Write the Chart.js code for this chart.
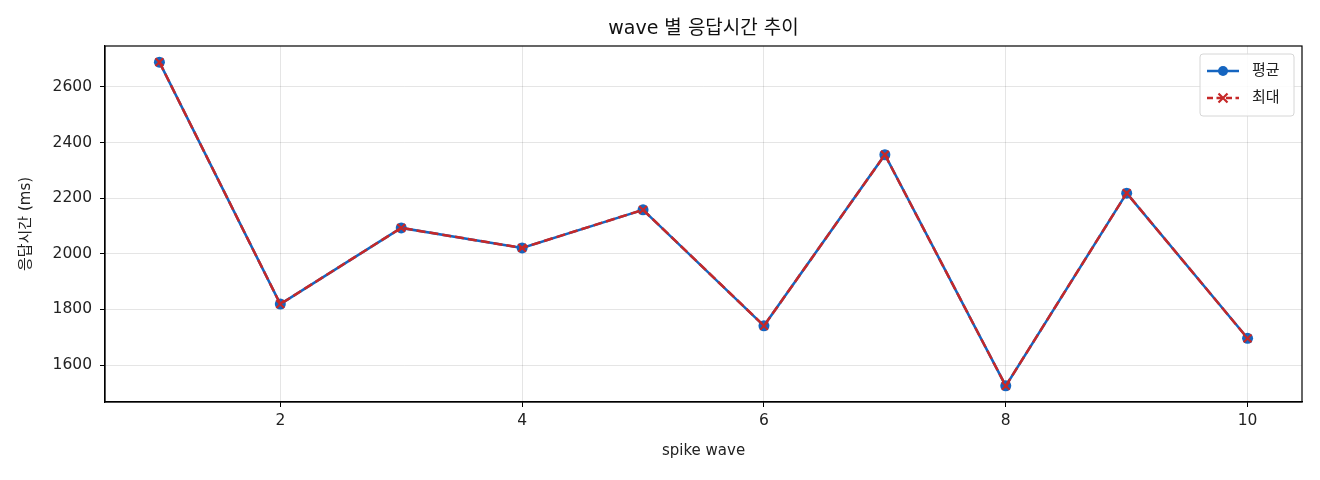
<!DOCTYPE html>
<html>
<head>
<meta charset="utf-8">
<script src="https://cdn.jsdelivr.net/npm/chart.js@4"></script>
<style>
  body { margin: 0; background: #fff; }
  #wrap { width: 1320px; height: 480px; }
</style>
</head>
<body>
<div id="wrap"><canvas id="myChart"></canvas></div>
<script>
// 데이터
var waves = [1, 2, 3, 4, 5, 6, 7, 8, 9, 10]
var avgMs = [2689, 1819, 2093, 2021, 2158, 1741, 2356, 1525, 2218, 1696]
var maxMs = [2689, 1819, 2093, 2021, 2158, 1741, 2356, 1525, 2218, 1696]
var xTicks = [2, 4, 6, 8, 10]
var yTicks = [1600, 1800, 2000, 2200, 2400, 2600]

var FONT = '"DejaVu Sans", "Noto Sans CJK KR", sans-serif'
var BLUE = '#1565c0'
var RED = '#c62828'

// 범례용 아이콘 (선 + 마커)
function legendIcon(color, dashed, marker) {
    var c = document.createElement('canvas')
    c.width = 34; c.height = 14
    var g = c.getContext('2d')
    g.strokeStyle = color
    g.lineWidth = 2.5
    if (dashed) g.setLineDash([6, 3.5])
    g.beginPath(); g.moveTo(1, 7); g.lineTo(33, 7); g.stroke()
    g.setLineDash([])
    if (marker === 'circle') {
        g.fillStyle = color
        g.beginPath(); g.arc(17, 7, 5, 0, Math.PI * 2); g.fill()
    } else {
        g.lineWidth = 2.2
        g.beginPath()
        g.moveTo(12.5, 2.5); g.lineTo(21.5, 11.5)
        g.moveTo(21.5, 2.5); g.lineTo(12.5, 11.5)
        g.stroke()
    }
    return c
}

// 축 테두리 + 범례 박스
var frame = {
    id: 'frame',
    afterDraw(chart) {
        var a = chart.chartArea, ctx = chart.ctx
        ctx.save()
        ctx.strokeStyle = '#000'
        ctx.lineWidth = 1.2
        ctx.strokeRect(a.left, a.top, a.right - a.left, a.bottom - a.top)

        var items = chart.data.datasets
        var bw = 94, bh = 62
        var bx = a.right - bw - 8, by = a.top + 8
        ctx.fillStyle = 'rgba(255,255,255,0.85)'
        ctx.strokeStyle = '#d6d6d6'
        ctx.lineWidth = 1
        ctx.beginPath()
        ctx.roundRect(bx, by, bw, bh, 3)
        ctx.fill(); ctx.stroke()
        ctx.font = '15px ' + FONT
        ctx.textBaseline = 'middle'
        ctx.fillStyle = '#222'
        items.forEach((ds, i) => {
            var y = by + 17 + i * 27
            ctx.drawImage(ds._icon, bx + 6, y - 7)
            ctx.fillText(ds.label, bx + 52, y)
        })
        ctx.restore()
    }
}

var ctx = document.getElementById('myChart').getContext('2d');
var myChart = new Chart(ctx, {
    type: 'line',
    data: {
        datasets: [{
            label: '평균',
            data: waves.map((w, i) => ({x: w, y: avgMs[i]})),
            borderColor: BLUE,
            backgroundColor: BLUE,
            borderWidth: 2.5,
            pointStyle: 'circle',
            pointRadius: 5.5,
            pointBorderWidth: 0,
            order: 2,
            _icon: legendIcon(BLUE, false, 'circle')
        }, {
            label: '최대',
            data: waves.map((w, i) => ({x: w, y: maxMs[i]})),
            borderColor: RED,
            backgroundColor: RED,
            borderWidth: 2.5,
            borderDash: [9, 4],
            pointStyle: 'crossRot',
            pointRadius: 5.5,
            pointBorderWidth: 2.2,
            order: 1,
            _icon: legendIcon(RED, true, 'x')
        }]
    },
    options: {
        responsive: true,
        maintainAspectRatio: false,
        animation: false,
        layout: { padding: { left: 0, right: 18, top: 0, bottom: 0 } },
        plugins: {
            legend: { display: false },
            tooltip: { enabled: false },
            title: {
                display: true,
                text: 'wave 별 응답시간 추이',
                color: '#111',
                fullSize: false,
                font: { family: FONT, size: 19, weight: 'normal' },
                padding: { top: 17.6, bottom: 5.6 }
            }
        },
        scales: {
            x: {
                type: 'linear',
                min: 0.55,
                max: 10.45,
                afterBuildTicks: (axis) => { axis.ticks = xTicks.map(v => ({value: v})) },
                afterFit: (axis) => { axis.height = 78 },
                grid: { color: 'rgba(0,0,0,0.1)', tickColor: '#000', tickLength: 5, drawOnChartArea: true },
                border: { color: '#000', width: 1.2 },
                ticks: {
                    color: '#222', font: { family: FONT, size: 15.5 }, padding: 5, maxRotation: 0,
                    callback: (v) => String(v)
                },
                title: {
                    display: true, text: 'spike wave', color: '#222',
                    font: { family: FONT, size: 15 }, padding: { top: 20, bottom: 20 }
                }
            },
            y: {
                type: 'linear',
                min: 1467,
                max: 2747,
                afterBuildTicks: (axis) => { axis.ticks = yTicks.map(v => ({value: v})) },
                afterFit: (axis) => { axis.width = 105 },
                grid: { color: 'rgba(0,0,0,0.1)', tickColor: '#000', tickLength: 5 },
                border: { color: '#000', width: 1.2 },
                ticks: {
                    color: '#222', font: { family: FONT, size: 15.5 }, padding: 8,
                    callback: (v) => String(v)
                },
                title: {
                    display: true, text: '응답시간 (ms)', color: '#222',
                    font: { family: FONT, size: 15 }, padding: { top: 17, bottom: 17 }
                }
            }
        }
    },
    plugins: [frame]
});
</script>
</body>
</html>
